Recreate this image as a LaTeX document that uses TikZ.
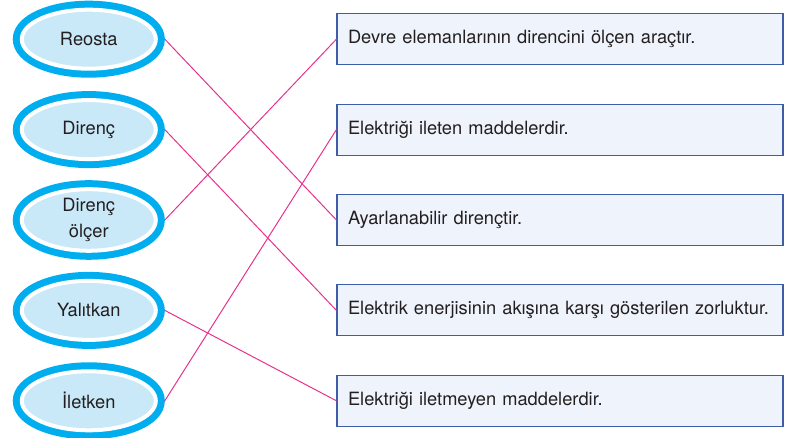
\documentclass[tikz,border=0pt]{standalone}
\usepackage{fontspec}
\setmainfont{TeX Gyre Heros}
\usetikzlibrary{shapes.geometric}

\definecolor{ringblue}{HTML}{00AEEF}
\definecolor{lightblue}{HTML}{C9E8F8}
\definecolor{boxfill}{HTML}{EFF4FC}
\definecolor{boxline}{HTML}{3D5DA8}
\definecolor{linkpink}{HTML}{E8308A}
\definecolor{textdark}{HTML}{231F20}

\begin{document}
\begin{tikzpicture}[
    term/.style={ellipse, minimum width=3.35cm, minimum height=1.475cm, inner sep=0pt,
        fill=lightblue, draw=white, line width=0.1cm, outer sep=0.225cm,
        preaction={draw=ringblue, line width=0.45cm}, align=center,
        text=textdark, font=\fontsize{13}{18.5}\selectfont},
    answer/.style={rectangle, minimum width=11.15cm, minimum height=1.275cm,
        text width=10.6cm, inner xsep=0.275cm, align=left, fill=boxfill,
        draw=boxline, line width=0.8pt, text=textdark,
        font=\fontsize{13}{16}\selectfont},
    link/.style={linkpink, line width=0.7pt}]
\useasboundingbox (0, 0) rectangle (19.75, 10.95);

    \node[term] (reosta) at (2.22, 9.97) {Reosta};
    \node[term] (direnc) at (2.22, 7.71) {Direnç};
    \node[term] (olcer) at (2.22, 5.45) {Direnç\\ölçer};
    \node[term] (yalitkan) at (2.22, 3.19) {Yalıtkan};
    \node[term] (iletken) at (2.22, 0.93) {İletken};

    \node[answer] (olcen) at (14.0, 9.97) {Devre elemanlarının direncini ölçen araçtır.};
    \node[answer] (ileten) at (14.0, 7.71) {Elektriği ileten maddelerdir.};
    \node[answer] (ayar) at (14.0, 5.45) {Ayarlanabilir dirençtir.};
    \node[answer] (zorluk) at (14.0, 3.19) {Elektrik enerjisinin akışına karşı gösterilen zorluktur.};
    \node[answer] (iletmeyen) at (14.0, 0.93) {Elektriği iletmeyen maddelerdir.};

    \draw[link] (reosta.east) -- (ayar.west);
    \draw[link] (direnc.east) -- (zorluk.west);
    \draw[link] (olcer.east) -- (olcen.west);
    \draw[link] (yalitkan.east) -- (iletmeyen.west);
    \draw[link] (iletken.east) -- (ileten.west);
\end{tikzpicture}
\end{document}
